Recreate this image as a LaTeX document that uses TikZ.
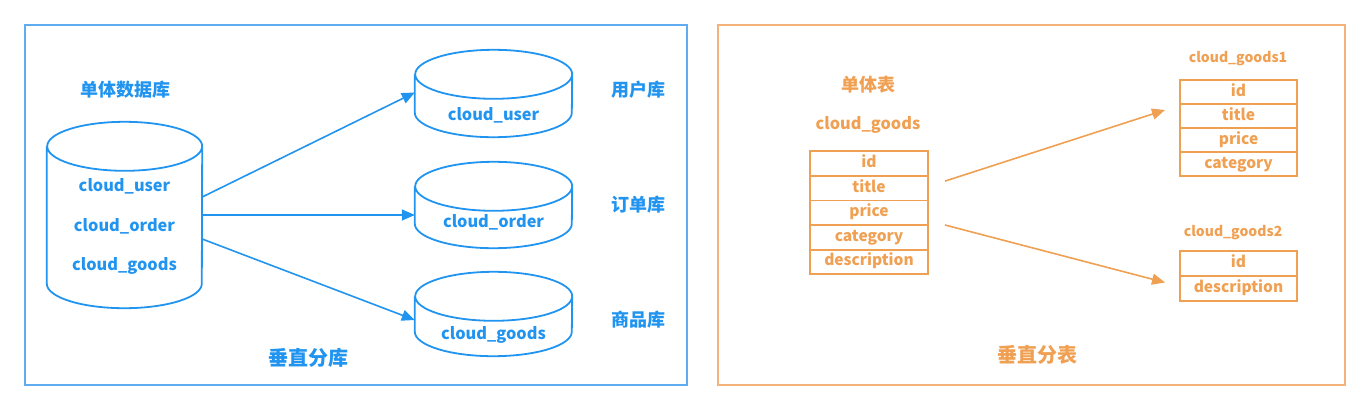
\documentclass[tikz,border=0pt]{standalone}
\usepackage{fontspec}
\setmainfont{Noto Sans CJK SC}
\usetikzlibrary{positioning,arrows.meta}

\definecolor{dbblue}{RGB}{33,148,240}
\definecolor{dbframe}{RGB}{95,172,240}
\definecolor{tborange}{RGB}{240,160,82}
\definecolor{tbframe}{RGB}{242,178,122}

\newcommand{\dbdrum}[3]{%
  \draw[dbline] ([yshift=-#3]#1.north west) -- ([yshift=#3]#1.south west)
    arc[start angle=180,end angle=360,x radius=#2,y radius=#3]
    -- ([yshift=-#3]#1.north east)
    arc[start angle=0,end angle=360,x radius=#2,y radius=#3];}

\tikzset{
dbbox/.style={rectangle,draw=none},
dbline/.style={draw=dbblue,line width=1.8pt},
dbtext/.style={text=dbblue,font=\bfseries\fontsize{16.3}{16}\selectfont},
dbtitle/.style={text=dbblue,font=\bfseries\fontsize{18}{18}\selectfont},
dbbig/.style={text=dbblue,font=\bfseries\fontsize{20}{20}\selectfont},
tbrow/.style={draw=tborange,line width=1.8pt,minimum width=118pt,minimum height=24.6pt,text=tborange,font=\bfseries\fontsize{15.5}{15}\selectfont,inner sep=0pt,outer sep=0pt,text height=11pt,text depth=3pt},
tbtext/.style={text=tborange,font=\bfseries\fontsize{16.3}{16}\selectfont},
tbsmall/.style={text=tborange,font=\bfseries\fontsize{14}{14}\selectfont},
tbtitle/.style={text=tborange,font=\bfseries\fontsize{18}{18}\selectfont},
tbbig/.style={text=tborange,font=\bfseries\fontsize{20}{20}\selectfont},
dbarrow/.style={draw=dbblue,line width=1.6pt,-{Triangle[length=13pt,width=11pt]}},
tbarrow/.style={draw=tborange,line width=1.6pt,-{Triangle[length=13pt,width=11pt]}}}

\begin{document}
\begin{tikzpicture}[x=1pt,y=-1pt,every node/.style={inner sep=0pt}]
  \useasboundingbox (0,0) rectangle (1370,410);
  \draw[dbframe,line width=1.8pt] (25,25) rectangle (687,385);
  \draw[tbframe,line width=1.8pt] (718,25) rectangle (1345,385);

  \node[dbtitle] (single) at (125,90) {单体数据库};
  \node[dbbox,minimum width=155pt,minimum height=186pt] (big) at (124.5,215) {};
  \dbdrum{big}{77.5pt}{24.5pt}
  \node[dbtext] (bu) at (124.5,186) {cloud\_user};
  \node[dbtext] (bo) at (124.5,226) {cloud\_order};
  \node[dbtext] (bg) at (124.5,266) {cloud\_goods};

  \node[dbbox,minimum width=157pt,minimum height=87pt] (cu) at (493.5,93.5) {};
  \dbdrum{cu}{78.5pt}{24.5pt}
  \node[dbtext] (cut) at (493.5,115) {cloud\_user};
  \node[dbbox,minimum width=157pt,minimum height=86pt] (co) at (493.5,205) {};
  \dbdrum{co}{78.5pt}{24.5pt}
  \node[dbtext] (cot) at (493.5,222) {cloud\_order};
  \node[dbbox,minimum width=157pt,minimum height=84pt] (cg) at (493.5,314) {};
  \dbdrum{cg}{78.5pt}{24.5pt}
  \node[dbtext] (cgt) at (493.5,335) {cloud\_goods};

  \node[dbtitle] (userdb) at (638,90) {用户库};
  \node[dbtitle] (orderdb) at (638,205) {订单库};
  \node[dbtitle] (goodsdb) at (638,320) {商品库};
  \node[dbbig] (vdb) at (308,358) {垂直分库};

  \draw[dbarrow] ([yshift=18pt]big.east) -- ([yshift=1pt]cu.west);
  \draw[dbarrow] (big.east) -- (co.west |- big.east);
  \draw[dbarrow] ([yshift=-24pt]big.east) -- ([yshift=-6pt]cg.west);

  \node[tbtitle] (singletb) at (868,85) {单体表};
  \node[tbtext] (goods) at (868,125) {cloud\_goods};
  \node[tbrow] (gid) at (869,163.5) {id};
  \node[tbrow,below=0pt of gid] (gtitle) {title};
  \node[tbrow,below=0pt of gtitle] (gprice) {price};
  \node[tbrow,below=0pt of gprice] (gcat) {category};
  \node[tbrow,below=0pt of gcat] (gdesc) {description};

  \node[tbsmall] (goods1) at (1238,59) {cloud\_goods1};
  \node[tbrow,minimum width=117pt,minimum height=24pt] (aid) at (1238.5,92) {id};
  \node[tbrow,minimum width=117pt,minimum height=24pt,below=0pt of aid] (atitle) {title};
  \node[tbrow,minimum width=117pt,minimum height=24pt,below=0pt of atitle] (aprice) {price};
  \node[tbrow,minimum width=117pt,minimum height=24pt,below=0pt of aprice] (acat) {category};

  \node[tbsmall] (goods2) at (1233,233) {cloud\_goods2};
  \node[tbrow,minimum width=117pt,minimum height=25pt] (bid) at (1238.5,263.5) {id};
  \node[tbrow,minimum width=117pt,minimum height=25pt,below=0pt of bid] (bdesc) {description};

  \node[tbbig] (vtb) at (1037,355) {垂直分表};

  \draw[tbarrow] ([xshift=17pt,yshift=7pt]gtitle.east) -- ([xshift=-15pt,yshift=6pt]atitle.west);
  \draw[tbarrow] ([xshift=17pt]gprice.south east) -- ([xshift=-15pt,yshift=6pt]bdesc.west);
\end{tikzpicture}
\end{document}
